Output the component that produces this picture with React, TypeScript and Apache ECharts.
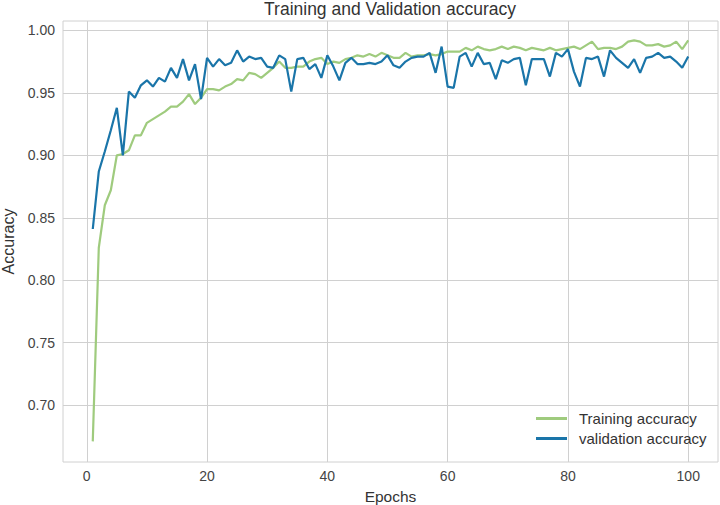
import React, { useEffect, useRef } from "react";
import * as echarts from "echarts";

const trainingAccuracy = [
  0.671, 0.826, 0.860, 0.872, 0.900, 0.901, 0.904, 0.916, 0.916, 0.926,
  0.929, 0.932, 0.935, 0.939, 0.939, 0.943, 0.949, 0.941, 0.946, 0.953,
  0.953, 0.952, 0.955, 0.957, 0.961, 0.960, 0.966, 0.965, 0.962, 0.966,
  0.970, 0.975, 0.970, 0.970, 0.971, 0.971, 0.975, 0.977, 0.978, 0.973,
  0.975, 0.974, 0.977, 0.978, 0.980, 0.979, 0.981, 0.979, 0.982, 0.980,
  0.978, 0.978, 0.982, 0.979, 0.980, 0.980, 0.981, 0.980, 0.981, 0.983,
  0.983, 0.983, 0.986, 0.984, 0.987, 0.985, 0.984, 0.985, 0.987, 0.985,
  0.987, 0.986, 0.984, 0.986, 0.985, 0.984, 0.986, 0.984, 0.985, 0.986,
  0.987, 0.985, 0.988, 0.991, 0.985, 0.986, 0.986, 0.985, 0.987, 0.991,
  0.992, 0.991, 0.988, 0.988, 0.989, 0.987, 0.988, 0.991, 0.985, 0.992,
];

const validationAccuracy = [
  0.841, 0.887, 0.903, 0.920, 0.938, 0.900, 0.951, 0.946, 0.956, 0.960,
  0.955, 0.962, 0.959, 0.970, 0.962, 0.977, 0.960, 0.973, 0.945, 0.978,
  0.971, 0.977, 0.972, 0.974, 0.984, 0.975, 0.979, 0.977, 0.978, 0.971,
  0.970, 0.980, 0.977, 0.951, 0.977, 0.978, 0.969, 0.973, 0.962, 0.980,
  0.971, 0.960, 0.974, 0.978, 0.973, 0.973, 0.974, 0.973, 0.975, 0.980,
  0.972, 0.970, 0.975, 0.978, 0.979, 0.979, 0.982, 0.966, 0.987, 0.955,
  0.954, 0.979, 0.982, 0.971, 0.982, 0.973, 0.974, 0.961, 0.976, 0.974,
  0.977, 0.978, 0.956, 0.977, 0.977, 0.977, 0.963, 0.982, 0.979, 0.985,
  0.967, 0.955, 0.978, 0.977, 0.979, 0.963, 0.984, 0.978, 0.974, 0.970,
  0.977, 0.966, 0.978, 0.979, 0.982, 0.978, 0.979, 0.975, 0.970, 0.979,
];

const xTicks = [0, 20, 40, 60, 80, 100];
const yTicks = [0.7, 0.75, 0.8, 0.85, 0.9, 0.95, 1.0];

const GREEN = "#9fcb7e";
const BLUE = "#1a75a9";
const GRID = "#d0d0d0";
const FONT = "Liberation Sans, Arial, sans-serif";

export default function App() {
  const ref = useRef<HTMLDivElement>(null);
  useEffect(() => {
    const chart = echarts.init(ref.current!, null, { renderer: "svg" });
    chart.setOption({
      animation: false,
      backgroundColor: "#ffffff",
      textStyle: { fontFamily: FONT },
      title: {
        text: "Training and Validation accuracy",
        left: 390,
        textAlign: "center",
        top: 0,
        padding: 0,
        textStyle: { fontSize: 17.5, fontWeight: "normal", color: "#333", fontFamily: FONT },
      },
      grid: {
        left: 63,
        right: 2,
        top: 21,
        bottom: 43,
        show: true,
        borderColor: GRID,
        borderWidth: 1,
        containLabel: false,
        outerBoundsMode: "none",
      },
      legend: {
        left: 536,
        top: 411,
        orient: "vertical",
        padding: 0,
        itemGap: 5,
        itemWidth: 31,
        itemHeight: 3,
        icon: "rect",
        textStyle: { fontSize: 15, color: "#333", fontFamily: FONT, padding: [0, 0, 0, 7] },
        data: ["Training accuracy", "validation accuracy"],
      },
      xAxis: {
        type: "value",
        min: -3.95,
        max: 104.95,
        name: "Epochs",
        nameLocation: "middle",
        nameGap: 26,
        nameTextStyle: { fontSize: 15.5, color: "#333", fontFamily: FONT },
        axisLine: { show: false },
        axisTick: { show: false, customValues: xTicks },
        axisLabel: { customValues: xTicks, fontSize: 14, color: "#444", margin: 7, fontFamily: FONT },
        splitLine: { show: true, lineStyle: { color: GRID, width: 1 } },
      },
      yAxis: {
        type: "value",
        min: 0.6545,
        max: 1.0075,
        name: "Accuracy",
        nameLocation: "middle",
        nameGap: 47,
        nameTextStyle: { fontSize: 16, color: "#333", fontFamily: FONT },
        axisLine: { show: false },
        axisTick: { show: false, customValues: yTicks },
        axisLabel: {
          customValues: yTicks,
          fontSize: 14,
          color: "#444",
          margin: 8,
          fontFamily: FONT,
          formatter: (v: number) => v.toFixed(2),
        },
        splitLine: { show: true, lineStyle: { color: GRID, width: 1 } },
      },
      series: [
        {
          name: "Training accuracy",
          type: "line",
          data: trainingAccuracy.map((v, i) => [i + 1, v]),
          showSymbol: false,
          symbol: "none",
          lineStyle: { color: GREEN, width: 2.2 },
          itemStyle: { color: GREEN },
        },
        {
          name: "validation accuracy",
          type: "line",
          data: validationAccuracy.map((v, i) => [i + 1, v]),
          showSymbol: false,
          symbol: "none",
          lineStyle: { color: BLUE, width: 2.2 },
          itemStyle: { color: BLUE },
        },
      ],
    });
    return () => chart.dispose();
  }, []);
  return (
    <div
      ref={ref}
      style={{ position: "fixed", left: 0, top: 0, width: 720, height: 505 }}
    />
  );
}
